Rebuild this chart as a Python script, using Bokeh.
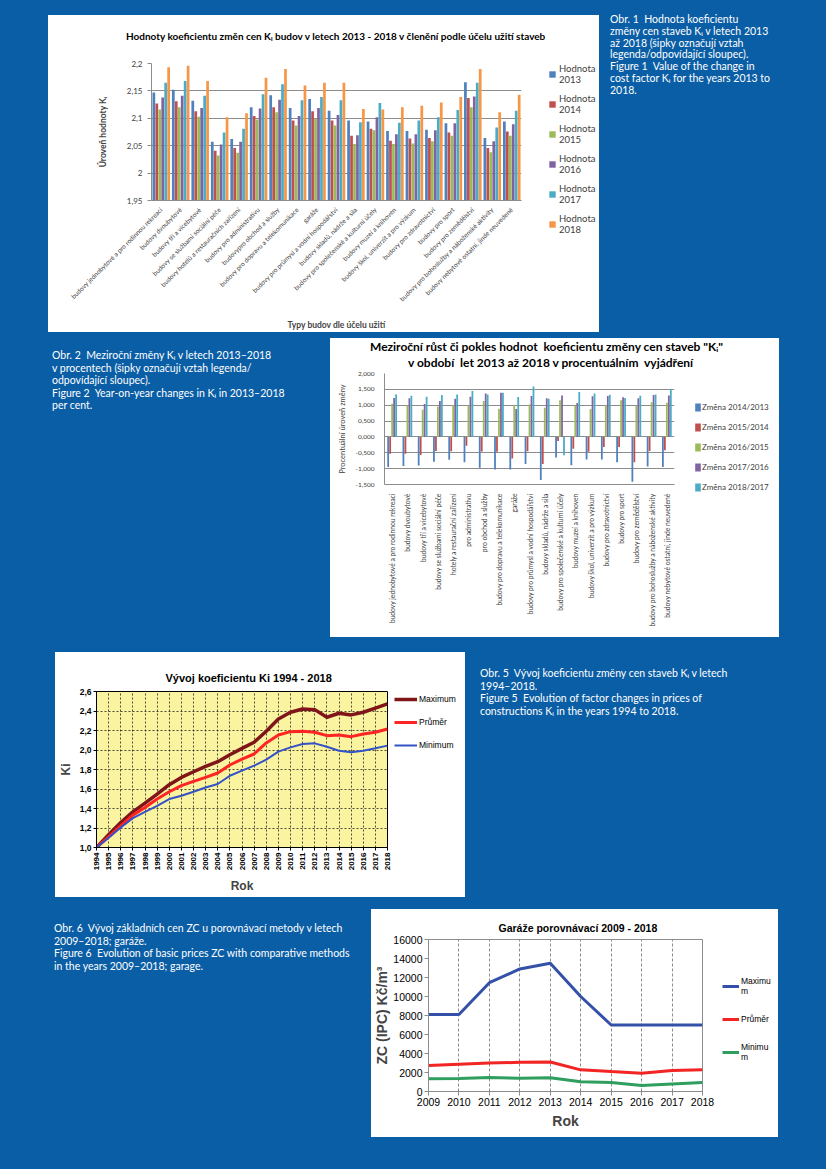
import math
from bokeh.plotting import figure
from bokeh.models import (ColumnDataSource, FactorRange, Range1d, FixedTicker,
                          CustomJSTickFormatter, Legend, LegendItem, Title, Div, Spacer)
from bokeh.layouts import row, column
from bokeh.transform import dodge
from bokeh.embed import file_html
from bokeh.resources import INLINE

# ---------------- data: chart 1 ----------------
building_types = [
    "budovy jednobytové a pro rodinnou rekreaci", "budovy dvoubytové",
    "budovy tří a vícebytové", "budovy se službami sociální péče",
    "budovy hotelů a restauračních zařízení", "budovy pro administrativu",
    "budovypro obchod a služby", "budovy pro dopravu a telekomunikace", "garáže",
    "budovy pro průmysl a vodní hospodářství", "budovy skladů, nádrže a sila",
    "budovy pro společenské a kulturní účely", "budovy muzeí a knihoven",
    "budovy škol, univerzit a pro výzkum", "budovy pro zdravotnictví",
    "budovy pro sport", "budovy pro zemědělství",
    "budovy pro bohoslužby a náboženské aktivity",
    "budovy nebytové ostatní, jinde neuvedené"]
ki_2013 = [2.147, 2.152, 2.132, 2.057, 2.062, 2.120, 2.142, 2.119, 2.135, 2.114, 2.096, 2.094, 2.077, 2.077, 2.079, 2.091, 2.166, 2.064, 2.094]
ki_2014 = [2.127, 2.131, 2.113, 2.041, 2.046, 2.104, 2.120, 2.096, 2.113, 2.096, 2.068, 2.081, 2.059, 2.063, 2.064, 2.074, 2.137, 2.046, 2.076]
ki_2015 = [2.116, 2.120, 2.103, 2.032, 2.037, 2.098, 2.111, 2.087, 2.099, 2.087, 2.053, 2.078, 2.053, 2.054, 2.058, 2.068, 2.120, 2.038, 2.068]
ki_2016 = [2.138, 2.141, 2.119, 2.052, 2.057, 2.118, 2.134, 2.104, 2.119, 2.106, 2.069, 2.102, 2.071, 2.071, 2.078, 2.091, 2.140, 2.058, 2.089]
ki_2017 = [2.165, 2.168, 2.141, 2.074, 2.081, 2.144, 2.162, 2.133, 2.139, 2.133, 2.093, 2.128, 2.092, 2.096, 2.102, 2.115, 2.165, 2.083, 2.114]
ki_2018 = [2.193, 2.196, 2.168, 2.102, 2.109, 2.174, 2.190, 2.160, 2.165, 2.165, 2.117, 2.116, 2.120, 2.123, 2.129, 2.139, 2.190, 2.111, 2.143]
value_labels = ["Hodnota\n2013", "Hodnota\n2014", "Hodnota\n2015",
                "Hodnota\n2016", "Hodnota\n2017", "Hodnota\n2018"]
title1 = "Hodnoty koeficientu změn cen Kᵢ budov v letech 2013 - 2018 v členění podle účelu užití staveb"

# ---------------- data: chart 2 ----------------
building_types_2 = [
    "budovy jednobytové a pro rodinnou rekreaci", "budovy dvoubytové",
    "budovy tří a vícebytové", "budovy se službami sociální péče",
    "hotely a restaurační zařízení", "pro administrativu", "pro obchod a služby",
    "budovy pro dopravu a telekomunikace", "garáže",
    "budovy pro průmysl a vodní hospodářství", "budovy skladů, nádrže a sila",
    "budovy pro společenské a kulturní účely", "budovy muzeí a knihoven",
    "budovy škol, univerzit a pro výzkum", "budovy pro zdravotnictví",
    "budovy pro sport", "budovy pro zemědělství",
    "budovy pro bohoslužby a náboženské aktivity",
    "budovy nebytové ostatní, jinde neuvedené"]
chg_14_13 = [-0.95, -0.92, -0.90, -0.78, -0.72, -0.80, -0.97, -1.03, -1.03, -0.85, -1.36, -0.65, -0.89, -0.71, -0.71, -0.80, -1.41, -0.93, -0.95]
chg_15_14 = [-0.53, -0.53, -0.57, -0.44, -0.45, -0.28, -0.46, -0.47, -0.68, -0.45, -0.85, -0.13, -0.37, -0.47, -0.32, -0.32, -0.80, -0.44, -0.42]
chg_16_15 = [1.05, 1.00, 0.86, 0.96, 1.01, 0.99, 1.13, 0.89, 1.00, 1.02, 0.92, 1.16, 0.98, 0.88, 1.00, 1.16, 0.99, 1.09, 1.08]
chg_17_16 = [1.23, 1.22, 1.04, 1.13, 1.20, 1.27, 1.37, 1.39, 0.88, 1.29, 1.22, 1.31, 1.07, 1.28, 1.29, 1.25, 1.22, 1.32, 1.31]
chg_18_17 = [1.34, 1.30, 1.27, 1.32, 1.34, 1.45, 1.34, 1.39, 1.26, 1.59, 1.20, -0.58, 1.42, 1.37, 1.33, 1.23, 1.30, 1.34, 1.50]
change_labels = ["Změna 2014/2013", "Změna 2015/2014", "Změna 2016/2015",
                 "Změna 2017/2016", "Změna 2018/2017"]
title2a = "Meziroční růst či pokles hodnot  koeficientu změny cen staveb \"Kᵢ\""
title2b = "v období  let 2013 až 2018 v procentuálním  vyjádření"

# ---------------- data: chart 3 ----------------
years_ki = [1994, 1995, 1996, 1997, 1998, 1999, 2000, 2001, 2002, 2003, 2004, 2005,
            2006, 2007, 2008, 2009, 2010, 2011, 2012, 2013, 2014, 2015, 2016, 2017, 2018]
ki_max = [1.00, 1.13, 1.257, 1.366, 1.455, 1.548, 1.644, 1.719, 1.777, 1.832, 1.880, 1.952,
          2.017, 2.079, 2.192, 2.318, 2.387, 2.421, 2.414, 2.336, 2.377, 2.360, 2.387, 2.430, 2.473]
ki_avg = [1.00, 1.11, 1.223, 1.332, 1.411, 1.497, 1.572, 1.634, 1.678, 1.719, 1.764, 1.846,
          1.907, 1.959, 2.072, 2.154, 2.188, 2.192, 2.182, 2.147, 2.154, 2.137, 2.164, 2.182, 2.216]
ki_min = [1.00, 1.10, 1.205, 1.301, 1.366, 1.428, 1.497, 1.531, 1.572, 1.616, 1.651, 1.736,
          1.788, 1.839, 1.901, 1.983, 2.027, 2.062, 2.068, 2.034, 1.993, 1.976, 1.993, 2.017, 2.045]
ki_ticks = [1.0, 1.2, 1.4, 1.6, 1.8, 2.0, 2.2, 2.4, 2.6]

# ---------------- data: chart 4 ----------------
years_gar = [2009, 2010, 2011, 2012, 2013, 2014, 2015, 2016, 2017, 2018]
gar_max = [8100, 8100, 11450, 12900, 13500, 10000, 7000, 7000, 7000, 7000]
gar_avg = [2740, 2880, 2990, 3070, 3110, 2280, 2100, 1930, 2200, 2280]
gar_min = [1330, 1370, 1470, 1400, 1440, 1020, 950, 630, 800, 950]
gar_ticks = [0, 2000, 4000, 6000, 8000, 10000, 12000, 14000, 16000]

# ---------------- captions ----------------
cap1 = ["Obr. 1  Hodnota koeficientu", "změny cen staveb Kᵢ v letech 2013",
        "až 2018 (šipky označují vztah", "legenda/odpovídající sloupec).",
        "Figure 1  Value of the change in", "cost factor Kᵢ for the years 2013 to", "2018."]
cap2 = ["Obr. 2  Meziroční změny Kᵢ v letech 2013–2018",
        "v procentech (šipky označují vztah legenda/", "odpovídající sloupec).",
        "Figure 2  Year-on-year changes in Kᵢ in 2013–2018", "per cent."]
cap5 = ["Obr. 5  Vývoj koeficientu změny cen staveb Kᵢ v letech", "1994–2018.",
        "Figure 5  Evolution of factor changes in prices of",
        "constructions Kᵢ in the years 1994 to 2018."]
cap6 = ["Obr. 6  Vývoj základních cen ZC u porovnávací metody v letech",
        "2009–2018; garáže.",
        "Figure 6  Evolution of basic prices ZC with comparative methods",
        "in the years 2009–2018; garage."]

BG = "#0a5ea5"
OFFICE = ["#4f81bd", "#c0504d", "#9bbb59", "#8064a2", "#4bacc6", "#f79646"]
CAL = "Lato"
ARI = "Liberation Sans"
NO_POINT = [float("nan")]  # legend swatches only: a single missing value, nothing is drawn
WHITE = {"background-color": "white"}


def base_fig(w, h, xr, yr, l, r, t, b):
    p = figure(width=w, height=h, x_range=xr, y_range=yr, output_backend="svg",
               toolbar_location=None, title_location=None,
               min_border_left=l, min_border_right=r, min_border_top=t, min_border_bottom=b)
    p.background_fill_color = "white"
    p.border_fill_color = "white"
    p.outline_line_color = None
    for ax in (p.xaxis, p.yaxis):
        ax.minor_tick_line_color = None
    return p


def legend_fig(w, h):
    f = figure(width=w, height=h, x_range=Range1d(0, 1), y_range=Range1d(0, 1),
               output_backend="svg", toolbar_location=None, title_location=None,
               x_axis_type=None, y_axis_type=None,
               min_border_left=0, min_border_right=0, min_border_top=0, min_border_bottom=0)
    f.outline_line_color = None
    f.background_fill_color = "white"
    f.border_fill_color = "white"
    return f


def place_legend(f, items, loc, gw, gh, lh, sp, so, font, size, color):
    leg = Legend(items=items, location=loc, orientation="vertical",
                 glyph_width=gw, glyph_height=gh, label_height=lh, spacing=sp,
                 label_standoff=so, padding=0, margin=0, border_line_color=None,
                 background_fill_alpha=0, label_text_font=font,
                 label_text_font_size=size, label_text_color=color)
    f.add_layout(leg, "center")
    return leg


def add_title(p, text, font, size, offset, standoff, style="bold"):
    p.add_layout(Title(text=text, align="left", offset=offset, standoff=standoff,
                       text_font=font, text_font_size=size, text_font_style=style,
                       text_color="black"), "above")


def title_div(lines, w, h, font, size, lh):
    inner = "".join(
        f"<div style='position:absolute;left:{x}px;top:{y}px;white-space:pre;"
        f"line-height:{lh}px'>{t}</div>" for t, x, y in lines)
    return Div(text=f"<div style='position:relative;width:{w}px;height:{h}px'>{inner}</div>",
               width=w, height=h, margin=0,
               styles={"background-color": "white", "color": "black", "font-family": font,
                       "font-size": size, "font-weight": "bold", "overflow": "hidden"})


def chart_box(plot, legend, title=None):
    inner = row(plot, column(legend, styles=WHITE), styles=WHITE)
    if title is None:
        return inner
    return column(title, inner, styles=WHITE)


# ================= chart 1 =================
src1 = ColumnDataSource(dict(cat=building_types, a=ki_2013, b=ki_2014, c=ki_2015,
                             d=ki_2016, e=ki_2017, f=ki_2018))
p1 = base_fig(492, 282, FactorRange(factors=building_types), Range1d(1.95, 2.2), 103, 19, 13, 128)
bw = 0.152
leg1 = legend_fig(59, 282)
items1 = []
for i, col in enumerate("abcdef"):
    p1.vbar(x=dodge("cat", (i - 2.5) * bw, range=p1.x_range), top=col, bottom=1.95,
            width=bw * 0.92, source=src1, fill_color=OFFICE[i], line_color=None)
    sw = leg1.vbar(x=NO_POINT, top=NO_POINT, width=0.1, fill_color=OFFICE[i], line_color=None)
    items1.append(LegendItem(label=value_labels[i], renderers=[sw]))
p1.yaxis.ticker = FixedTicker(ticks=[1.95, 2.0, 2.05, 2.1, 2.15, 2.2])
p1.yaxis.formatter = CustomJSTickFormatter(
    code="return tick.toFixed(2).replace(/0+$/,'').replace(/\\.$/,'').replace('.', ',');")
p1.yaxis.major_label_text_font = CAL
p1.yaxis.major_label_text_font_size = "8px"
p1.yaxis.major_label_text_color = "#404040"
p1.yaxis.axis_line_color = "#8c8c8c"
p1.yaxis.major_tick_line_color = "#8c8c8c"
p1.yaxis.major_tick_out = 4
p1.yaxis.major_tick_in = 0
p1.yaxis.axis_label = "Úroveň hodnoty Kᵢ"
p1.yaxis.axis_label_text_font = CAL
p1.yaxis.axis_label_text_font_size = "8.5px"
p1.yaxis.axis_label_text_font_style = "bold"
p1.yaxis.axis_label_standoff = 16
p1.xaxis.major_label_orientation = math.pi / 4
p1.xaxis.major_label_text_font = CAL
p1.xaxis.major_label_text_font_size = "6.5px"
p1.xaxis.major_label_text_color = "#404040"
p1.xaxis.major_label_standoff = 2
p1.xaxis.axis_line_color = "#8c8c8c"
p1.xaxis.major_tick_line_color = None
p1.xaxis.axis_label = "Typy budov dle účelu užití"
p1.xaxis.axis_label_text_font = CAL
p1.xaxis.axis_label_text_font_size = "8.5px"
p1.xaxis.axis_label_text_font_style = "bold"
p1.xaxis.axis_label_standoff = 12
p1.xgrid.grid_line_color = None
p1.ygrid.grid_line_color = "#8c8c8c"
place_legend(leg1, items1, (8, 97), 8, 8, 8, 8, 3, CAL, "9.5px", "#404040")
t1 = title_div([(title1, 78, 15)], 551, 35, CAL, "10px", 12)
box1 = chart_box(p1, leg1, t1)

# ================= chart 2 =================
src2 = ColumnDataSource(dict(cat=building_types_2, a=chg_14_13, b=chg_15_14, c=chg_16_15,
                             d=chg_17_16, e=chg_18_17))
p2 = base_fig(362, 268, FactorRange(factors=building_types_2), Range1d(-1.5, 2.0), 54, 18, 4, 153)
bw2 = 0.13
leg2 = legend_fig(87, 268)
items2 = []
for i, col in enumerate("abcde"):
    p2.vbar(x=dodge("cat", (i - 2) * bw2, range=p2.x_range), top=col, bottom=0,
            width=bw2 * 0.9, source=src2, fill_color=OFFICE[i], line_color=None)
    sw = leg2.vbar(x=NO_POINT, top=NO_POINT, width=0.1, fill_color=OFFICE[i], line_color=None)
    items2.append(LegendItem(label=change_labels[i], renderers=[sw]))
p2.yaxis.ticker = FixedTicker(ticks=[-1.5, -1.0, -0.5, 0.0, 0.5, 1.0, 1.5, 2.0])
p2.yaxis.formatter = CustomJSTickFormatter(code="return tick.toFixed(3).replace('.', ',');")
p2.yaxis.major_label_text_font = CAL
p2.yaxis.major_label_text_font_size = "6.5px"
p2.yaxis.major_label_text_color = "#404040"
p2.yaxis.axis_line_color = "#8c8c8c"
p2.yaxis.major_tick_line_color = None
p2.yaxis.major_label_standoff = 4
p2.yaxis.axis_label = "Procentuální úroveň změny"
p2.yaxis.axis_label_text_font = CAL
p2.yaxis.axis_label_text_font_size = "7.5px"
p2.yaxis.axis_label_text_font_style = "normal"
p2.yaxis.axis_label_standoff = 6
p2.xaxis.major_label_orientation = math.pi / 2
p2.xaxis.major_label_text_font = CAL
p2.xaxis.major_label_text_font_size = "6.7px"
p2.xaxis.major_label_text_color = "#404040"
p2.xaxis.major_label_standoff = 3
p2.xaxis.axis_line_color = "#8c8c8c"
p2.xaxis.major_tick_line_color = None
p2.xgrid.grid_line_color = None
p2.ygrid.grid_line_color = "#8c8c8c"
place_legend(leg2, items2, (2, 145), 7, 10, 10, 10, 1, CAL, "8px", "#404040")
t2 = title_div([(title2a, 40, 1), (title2b, 78, 17)], 449, 31, CAL, "12px", 16)
box2 = chart_box(p2, leg2, t2)

# ================= chart 3 =================
src3 = ColumnDataSource(dict(year=years_ki, mx=ki_max, av=ki_avg, mn=ki_min))
p3 = base_fig(339, 245, Range1d(1994, 2018), Range1d(1.0, 2.6), 38, 7, 39, 50)
p3.background_fill_color = "#faf4a0"
p3.outline_line_color = "black"
add_title(p3, "Vývoj  koeficientu  Ki  1994 - 2018", ARI, "11px", 69, 15)
p3.line("year", "mx", source=src3, line_color="#7f1518", line_width=3.5)
p3.line("year", "av", source=src3, line_color="#ff2424", line_width=3)
p3.line("year", "mn", source=src3, line_color="#3352c8", line_width=2)
p3.xaxis.ticker = FixedTicker(ticks=years_ki)
p3.yaxis.ticker = FixedTicker(ticks=ki_ticks)
p3.yaxis.formatter = CustomJSTickFormatter(code="return tick.toFixed(1).replace('.', ',');")
for ax in (p3.xaxis, p3.yaxis):
    ax.major_label_text_font = ARI
    ax.major_label_text_font_style = "bold"
    ax.major_label_text_color = "black"
    ax.axis_line_color = "black"
    ax.major_tick_line_color = "black"
    ax.major_tick_out = 3
    ax.major_tick_in = 0
    ax.major_label_standoff = 2
    ax.axis_label_text_font = ARI
    ax.axis_label_text_font_style = "bold"
    ax.axis_label_text_font_size = "12px"
p3.xaxis.major_label_orientation = math.pi / 2
p3.xaxis.major_label_text_font_size = "8px"
p3.yaxis.major_label_text_font_size = "8.5px"
p3.xaxis.axis_label = "Rok"
p3.xaxis.axis_label_standoff = 6
p3.yaxis.axis_label = "Ki"
p3.yaxis.axis_label_standoff = 4
for g in (p3.xgrid, p3.ygrid):
    g.grid_line_color = "#222222"
    g.grid_line_dash = "2 2"
    g.grid_line_alpha = 0.8
leg3 = legend_fig(71, 245)
sw_mx = leg3.line(x=NO_POINT, y=NO_POINT, line_color="#7f1518", line_width=3.5)
sw_av = leg3.line(x=NO_POINT, y=NO_POINT, line_color="#ff2424", line_width=3)
sw_mn = leg3.line(x=NO_POINT, y=NO_POINT, line_color="#3352c8", line_width=2)
place_legend(leg3, [LegendItem(label="Maximum", renderers=[sw_mx]),
                    LegendItem(label="Průměr", renderers=[sw_av]),
                    LegendItem(label="Minimum", renderers=[sw_mn])],
             (0, 142), 23, 20, 20, 3, 2, ARI, "8.5px", "black")
box3 = chart_box(p3, leg3)

# ================= chart 4 =================
src4 = ColumnDataSource(dict(year=years_gar, mx=gar_max, av=gar_avg, mn=gar_min))
p4 = base_fig(345, 228, Range1d(2009, 2018), Range1d(0, 16000), 52, 14, 30, 46)
p4.outline_line_color = "#8c8c8c"
add_title(p4, "Garáže porovnávací 2009 - 2018", ARI, "10.5px", 70, 11)
p4.line("year", "mx", source=src4, line_color="#3450a8", line_width=3)
p4.line("year", "av", source=src4, line_color="#f22424", line_width=3)
p4.line("year", "mn", source=src4, line_color="#2f9e5f", line_width=3)
p4.xaxis.ticker = FixedTicker(ticks=years_gar)
p4.yaxis.ticker = FixedTicker(ticks=gar_ticks)
for ax in (p4.xaxis, p4.yaxis):
    ax.major_label_text_font = ARI
    ax.major_label_text_font_size = "10.5px"
    ax.major_label_text_color = "black"
    ax.axis_line_color = "#8c8c8c"
    ax.major_tick_line_color = "#8c8c8c"
    ax.major_tick_out = 4
    ax.major_tick_in = 0
    ax.major_label_standoff = 2
    ax.axis_label_text_font = ARI
    ax.axis_label_text_font_style = "bold"
    ax.axis_label_text_font_size = "14px"
p4.xaxis.axis_label = "Rok"
p4.xaxis.axis_label_standoff = 4
p4.yaxis.axis_label = "ZC (IPC) Kč/m³"
p4.yaxis.axis_label_standoff = 0
p4.xgrid.grid_line_color = "#8c8c8c"
p4.xgrid.grid_line_dash = "3 2"
p4.ygrid.grid_line_color = None
leg4 = legend_fig(62, 228)
s4_mx = leg4.line(x=NO_POINT, y=NO_POINT, line_color="#3450a8", line_width=3)
s4_av = leg4.line(x=NO_POINT, y=NO_POINT, line_color="#f22424", line_width=3)
s4_mn = leg4.line(x=NO_POINT, y=NO_POINT, line_color="#2f9e5f", line_width=3)
place_legend(leg4, [LegendItem(label="Maximu\nm", renderers=[s4_mx]),
                    LegendItem(label="Průměr", renderers=[s4_av]),
                    LegendItem(label="Minimu\nm", renderers=[s4_mn])],
             (6, 75), 17, 20, 20, 13, 2, ARI, "8.5px", "black")
box4 = chart_box(p4, leg4)


# ================= captions & layout =================
def caption(lines, w, h, lh):
    return Div(text="<br>".join(lines), width=w, height=h, margin=0,
               styles={"color": "white", "font-family": "Lato", "font-size": "10.5px",
                       "line-height": f"{lh}px", "white-space": "pre"})


def vsp(h):
    return Spacer(width=1, height=h)


def hsp(w):
    return Spacer(width=w, height=1)


div1 = caption(cap1, 195, 90, 11.8)
div2 = caption(cap2, 276, 66, 12.5)
div5 = caption(cap5, 300, 52, 12.5)
div6 = caption(cap6, 310, 52, 12.5)

row1 = row(hsp(48), column(vsp(15), box1), hsp(11), column(vsp(14), div1))
row2 = row(hsp(52), column(vsp(17), div2), hsp(2), column(vsp(6), box2))
row3 = row(hsp(55), column(vsp(15), box3), hsp(15), column(vsp(30), div5))
row4 = row(hsp(54), column(vsp(25), div6), hsp(7), column(vsp(12), box4))
page = column(row1, row2, row3, row4)

html = file_html(page, INLINE, title="Koeficient Ki")
html = html.replace("</head>", "<style>html,body{background-color:%s;}</style></head>" % BG, 1)
open("out.html", "w").write(html)
